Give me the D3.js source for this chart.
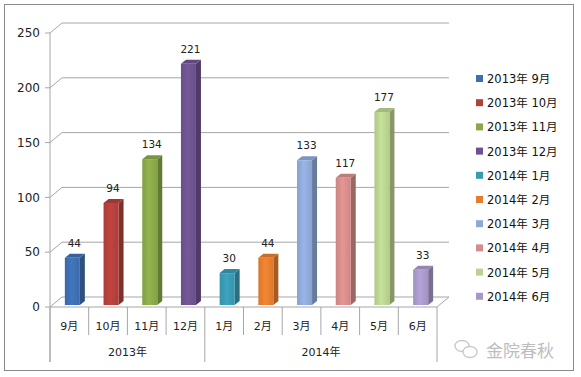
<!DOCTYPE html>
<html>
<head>
<meta charset="utf-8">
<script src="https://cdn.jsdelivr.net/npm/d3@7"></script>
<style>
  body { margin: 0; background: #fff; }
  text { font-family: "DejaVu Sans", "Noto Sans CJK SC", sans-serif; }
</style>
</head>
<body>
<div class="grafico"></div>
<script>
// data
const months = ["9月", "10月", "11月", "12月", "1月", "2月", "3月", "4月", "5月", "6月"];
const yearOf = ["2013年", "2013年", "2013年", "2013年", "2014年", "2014年", "2014年", "2014年", "2014年", "2014年"];
const values = [44, 94, 134, 221, 30, 44, 133, 117, 177, 33];
const yTicks = [0, 50, 100, 150, 200, 250];
const colors = ["#3d6eb0", "#b23f3c", "#89a84a", "#6e5290", "#3899b3", "#e37d2f",
                "#8ea9d8", "#d58c8a", "#b9d28f", "#a898c8"];

const width = 581, height = 377;
const dx = 12, dy = -10;      // depth of the back wall
const bdx = 5, bdy = -4;      // depth of a bar

const svg = d3.select(".grafico")
    .append("svg")
    .attr("width", width)
    .attr("height", height);

// outer frame
svg.append("rect")
    .attr("x", 4.5).attr("y", 4.5)
    .attr("width", 569).attr("height", 366)
    .attr("fill", "#fff")
    .attr("stroke", "#8a8a8a");

const x = d3.scaleBand().domain(d3.range(months.length)).range([50, 437]);
const y = d3.scaleLinear().domain([0, 250]).range([307, 33]);

const grid = "#a6a6a6";

// back wall gridlines + diagonal ticks
yTicks.forEach(t => {
    svg.append("line")
        .attr("x1", 50 + dx).attr("x2", 437 + dx)
        .attr("y1", y(t) + dy).attr("y2", y(t) + dy)
        .attr("stroke", grid);
    svg.append("line")
        .attr("x1", 50).attr("x2", 50 + dx)
        .attr("y1", y(t)).attr("y2", y(t) + dy)
        .attr("stroke", grid);
    svg.append("line")
        .attr("x1", 45).attr("x2", 50)
        .attr("y1", y(t)).attr("y2", y(t))
        .attr("stroke", grid);
    svg.append("text")
        .attr("x", 40).attr("y", y(t))
        .attr("dy", "0.35em")
        .attr("text-anchor", "end")
        .attr("font-size", 12)
        .attr("fill", "#222")
        .text(t);
});

// floor
svg.append("line")
    .attr("x1", 437).attr("x2", 437 + dx)
    .attr("y1", y(0)).attr("y2", y(0) + dy)
    .attr("stroke", grid);
svg.append("line")
    .attr("x1", 50).attr("x2", 437)
    .attr("y1", y(0)).attr("y2", y(0))
    .attr("stroke", grid);

// vertical axis line
svg.append("line")
    .attr("x1", 50).attr("x2", 50)
    .attr("y1", y(250)).attr("y2", 362)
    .attr("stroke", grid);

// category separators
const bounds = d3.range(months.length + 1).map(i => i < months.length ? x(i) : x.range()[1]);
bounds.forEach((bx, i) => {
    const isGroup = i === 0 || i === months.length || yearOf[i] !== yearOf[i - 1];
    svg.append("line")
        .attr("x1", bx).attr("x2", bx)
        .attr("y1", y(0)).attr("y2", isGroup ? 362 : 335)
        .attr("stroke", grid);
});

svg.selectAll(".month")
    .data(months)
    .join("text")
    .attr("class", "month")
    .attr("x", (d, i) => x(i) + x.bandwidth() / 2)
    .attr("y", 326)
    .attr("dy", "0.35em")
    .attr("text-anchor", "middle")
    .attr("font-size", 11)
    .attr("fill", "#222")
    .text(d => d);

const groups = d3.groups(months.map((m, i) => ({ m, i, yr: yearOf[i] })), d => d.yr);
svg.selectAll(".year")
    .data(groups)
    .join("text")
    .attr("class", "year")
    .attr("x", d => {
        const first = d[1][0].i, last = d[1][d[1].length - 1].i;
        return (x(first) + x(last) + x.bandwidth()) / 2;
    })
    .attr("y", 352)
    .attr("dy", "0.35em")
    .attr("text-anchor", "middle")
    .attr("font-size", 11)
    .attr("fill", "#222")
    .text(d => d[0]);

// gradients for bar fronts
const defs = svg.append("defs");
colors.forEach((c, i) => {
    const g = defs.append("linearGradient")
        .attr("id", "g" + i)
        .attr("x1", "0").attr("x2", "1").attr("y1", "0").attr("y2", "0");
    g.append("stop").attr("offset", "0").attr("stop-color", d3.color(c).darker(0.15));
    g.append("stop").attr("offset", "0.45").attr("stop-color", d3.color(c).brighter(0.2));
    g.append("stop").attr("offset", "1").attr("stop-color", d3.color(c).darker(0.1));
});

// bars
const barW = 15;
const bx = i => x(i) + x.bandwidth() / 2 - barW / 2 + 3;
const base = y(0) - 2;
const barTop = v => y(v) - 1;

const bars = svg.selectAll(".bar")
    .data(values)
    .join("g")
    .attr("class", "bar");

bars.append("path")
    .attr("d", (v, i) => {
        const x0 = bx(i) + barW;
        return `M${x0},${barTop(v)} L${x0 + bdx},${barTop(v) + bdy} L${x0 + bdx},${base + bdy} L${x0},${base} Z`;
    })
    .attr("fill", (v, i) => d3.color(colors[i]).darker(0.9));

bars.append("path")
    .attr("d", (v, i) => {
        const x0 = bx(i);
        return `M${x0},${barTop(v)} L${x0 + bdx},${barTop(v) + bdy} L${x0 + barW + bdx},${barTop(v) + bdy} L${x0 + barW},${barTop(v)} Z`;
    })
    .attr("fill", (v, i) => d3.color(colors[i]).darker(0.35));

bars.append("rect")
    .attr("x", (v, i) => bx(i))
    .attr("y", v => barTop(v))
    .attr("width", barW)
    .attr("height", v => base - barTop(v))
    .attr("fill", (v, i) => `url(#g${i})`);

bars.append("text")
    .attr("x", (v, i) => bx(i) + barW / 2 + 2)
    .attr("y", v => barTop(v) + bdy - 7)
    .attr("text-anchor", "middle")
    .attr("font-size", 10.5)
    .attr("fill", "#222")
    .text(v => v);

// legend
const legend = svg.selectAll(".legend")
    .data(months)
    .join("g")
    .attr("class", "legend")
    .attr("transform", (d, i) => `translate(476, ${79 + i * 24.2})`);

legend.append("rect")
    .attr("x", 0).attr("y", -4)
    .attr("width", 7).attr("height", 7)
    .attr("fill", (d, i) => colors[i]);

legend.append("text")
    .attr("x", 11)
    .attr("dy", "0.35em")
    .attr("font-size", 11.5)
    .attr("fill", "#111")
    .text((d, i) => yearOf[i] + " " + d);

// watermark
const wm = svg.append("g").attr("fill", "none").attr("stroke", "#c8c8c8").attr("stroke-width", 1.3);
wm.append("ellipse").attr("cx", 462).attr("cy", 346).attr("rx", 7).attr("ry", 5.5);
wm.append("ellipse").attr("cx", 470).attr("cy", 352).attr("rx", 7).attr("ry", 5.5).attr("fill", "#fff");
svg.append("text")
    .attr("x", 486).attr("y", 351)
    .attr("dy", "0.35em")
    .attr("font-size", 17)
    .attr("fill", "#bdbdbd")
    .attr("font-family", "Noto Sans CJK SC")
    .text("金院春秋");
</script>
</body>
</html>
